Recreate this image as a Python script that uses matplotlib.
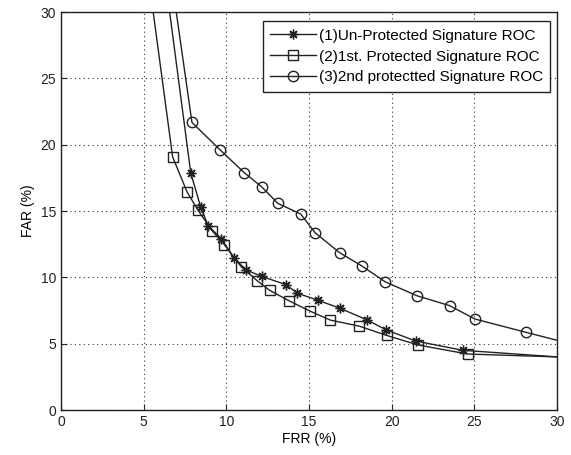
import matplotlib.pyplot as plt

plt.rcParams["font.family"] = ["Liberation Sans", "DejaVu Sans"]

# series 1: un-protected (first and last points lie outside the plotted range)
frr_unprot = [5.52, 7.85, 8.45, 8.9, 9.7, 10.45, 11.2, 12.15, 13.6, 14.3, 15.55, 16.85,
              18.53, 19.65, 21.45, 24.3, 32.0]
far_unprot = [40.0, 17.85, 15.3, 13.9, 12.9, 11.48, 10.55, 10.07, 9.45, 8.8, 8.27, 7.68,
              6.78, 6.05, 5.2, 4.5, 3.83]

# series 2: 1st protected
frr_prot1 = [4.5, 6.75, 7.62, 8.28, 9.13, 9.88, 10.9, 11.88, 12.62, 13.78, 15.07, 16.28,
             18.04, 19.7, 21.6, 24.59, 32.0]
far_prot1 = [40.0, 19.09, 16.45, 15.07, 13.53, 12.47, 10.8, 9.73, 9.02, 8.24, 7.45, 6.78,
             6.32, 5.62, 4.9, 4.22, 3.92]

# series 3: 2nd protected
frr_prot2 = [5.83, 7.92, 9.64, 11.09, 12.16, 13.11, 14.5, 15.37, 16.85, 18.18, 19.6,
             21.53, 23.5, 25.03, 28.14, 32.0]
far_prot2 = [40.0, 21.68, 19.59, 17.88, 16.8, 15.58, 14.77, 13.36, 11.86, 10.87, 9.67,
             8.61, 7.87, 6.86, 5.85, 4.62]

labels = [
    "(1)Un-Protected Signature ROC",
    "(2)1st. Protected Signature ROC",
    "(3)2nd protectted Signature ROC",
]

fig = plt.figure(figsize=(5.71, 4.55), dpi=100)
ax = fig.add_axes([0.1068, 0.0989, 0.8687, 0.8747])

line_kw = dict(color="#222222", linewidth=1.0, markerfacecolor="none",
               markeredgecolor="#222222", markeredgewidth=1.0)
ax.plot(frr_unprot, far_unprot, marker=(8, 2, 0), markersize=7, label=labels[0], **line_kw)
ax.plot(frr_prot1, far_prot1, marker="s", markersize=7, label=labels[1], **line_kw)
ax.plot(frr_prot2, far_prot2, marker="o", markersize=7.5, label=labels[2], **line_kw)

ax.set_xlim(0, 30)
ax.set_ylim(0, 30)
ax.set_xticks(range(0, 31, 5))
ax.set_yticks(range(0, 31, 5))
ax.tick_params(direction="in", length=4, labelsize=10, colors="#222222")
ax.grid(True, color="#333333", linestyle=(0, (1, 3)), linewidth=0.8)
for spine in ax.spines.values():
    spine.set_color("#222222")
    spine.set_linewidth(1.0)

ax.set_xlabel("FRR (%)", fontsize=10, labelpad=2)
ax.set_ylabel("FAR (%)", fontsize=10, labelpad=4)

leg = ax.legend(loc="upper right", bbox_to_anchor=(0.993, 0.985), fontsize=11,
                handlelength=3.0, handletextpad=0.15, borderpad=0.5,
                labelspacing=0.45, fancybox=False, framealpha=1.0, borderaxespad=0.2)
leg.get_frame().set_edgecolor("#222222")
leg.get_frame().set_linewidth(1.0)

fig.savefig("out.png", dpi=100)
